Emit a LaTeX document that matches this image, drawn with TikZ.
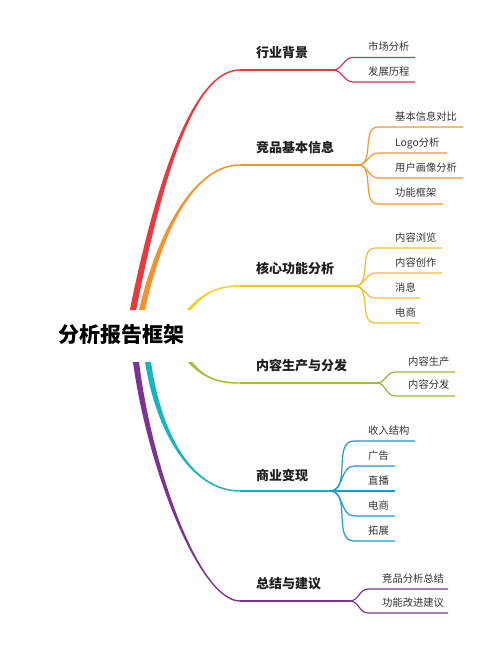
\documentclass[tikz,border=0pt]{standalone}
\usepackage{fontspec}
\setmainfont{Noto Sans CJK SC}
\usetikzlibrary{calc}
\definecolor{cred}{HTML}{E8393F}
\definecolor{cred2}{HTML}{D22F5C}
\definecolor{corange}{HTML}{F4912A}
\definecolor{corange2}{HTML}{EE9A30}
\definecolor{cyellow}{HTML}{F2D024}
\definecolor{cyellow2}{HTML}{EFBE2C}
\definecolor{cgreen}{HTML}{A2BD3A}
\definecolor{cgreen2}{HTML}{98B43E}
\definecolor{cteal}{HTML}{19B4C2}
\definecolor{cteal2}{HTML}{1B9CCB}
\definecolor{cpurple}{HTML}{7C3394}
\definecolor{cpurple2}{HTML}{7B3A98}
\definecolor{ctext}{HTML}{1E1E1E}
\definecolor{cleaf}{HTML}{333333}
% color, sign, half width, P0, P1, P2, P3
\newcommand\taperbranch[7]{%
  \fill[#1] ($(#4)+({-#3*#2},0)$) .. controls ($(#5)+({-0.8*#3*#2},0)$) and ($(#6)+(0,-1)$) .. ($(#7)+(0,-0.7)$)
    -- ($(#7)+(0,0.7)$) .. controls ($(#6)+(0,1)$) and ($(#5)+({0.8*#3*#2},0)$) .. ($(#4)+({#3*#2},0)$) -- cycle;}
\tikzset{
  mainline/.style={line width=1.4pt},
  subline/.style={line width=1.2pt},
  mainlabel/.style={anchor=west, inner sep=0pt, font=\fontsize{13}{13}\selectfont\bfseries, text=ctext},
  leaflabel/.style={anchor=west, inner sep=0pt, font=\fontsize{10.3}{10.3}\selectfont, text=cleaf},
  rootlabel/.style={inner sep=0pt, font=\fontsize{21}{21}\selectfont\bfseries, text=black},
}
\begin{document}
\begin{tikzpicture}[x=1pt,y=-1pt]
\useasboundingbox (0,0) rectangle (500,652);
\fill[white] (0,0) rectangle (500,652);

\node[rootlabel] (root) at (121,335) {分析报告框架};

% ---------- red
\coordinate (r0) at (133,310);
\coordinate (r1) at (240,70);
\coordinate (rf) at (333,70);
\taperbranch{cred}{1}{3.2}{r0}{165,150}{200,70}{r1}
\draw[cred,mainline] (r1) -- (rf);
\coordinate (ra) at (415,57.5);
\coordinate (rb) at (415,82);
\foreach \c in {ra,rb}{\draw[cred2,subline] (rf) to[out=0,in=180] ($(rf |- \c)+(20,0)$) -- (\c);}
\node[mainlabel] (rm) at (256,53) {行业背景};
\node[leaflabel] (rla) at (368,47) {市场分析};
\node[leaflabel] (rlb) at (368,72) {发展历程};

% ---------- orange
\coordinate (o0) at (142,310);
\coordinate (o1) at (240,165);
\coordinate (of) at (358,165);
\taperbranch{corange}{1}{3}{o0}{160,230}{195,165}{o1}
\draw[corange,mainline] (o1) -- (of);
\coordinate (oa) at (463,127);
\coordinate (ob) at (447,153);
\coordinate (oc) at (463,178);
\coordinate (od) at (443,204);
\foreach \c in {oa,ob,oc,od}{\draw[corange2,subline] (of) to[out=0,in=180] ($(of |- \c)+(20,0)$) -- (\c);}
\node[mainlabel] (om) at (256,148) {竞品基本信息};
\node[leaflabel] (ola) at (395,117) {基本信息对比};
\node[leaflabel] (olb) at (395,143) {Logo分析};
\node[leaflabel] (olc) at (395,168) {用户画像分析};
\node[leaflabel] (old) at (395,193) {功能框架};

% ---------- yellow
\coordinate (y0) at (189,310);
\coordinate (y1) at (240,286);
\coordinate (yf) at (355,286);
\taperbranch{cyellow}{1}{2.2}{y0}{203,293}{218,286}{y1}
\draw[cyellow!85!cgreen,mainline] (y1) -- (yf);
\coordinate (ya) at (442,248);
\coordinate (yb) at (442,273);
\coordinate (yc) at (420,298);
\coordinate (yd) at (420,323);
\foreach \c in {ya,yb,yc,yd}{\draw[cyellow2,subline] (yf) to[out=0,in=180] ($(yf |- \c)+(20,0)$) -- (\c);}
\node[mainlabel] (ym) at (256,269) {核心功能分析};
\node[leaflabel] (yla) at (395,238) {内容浏览};
\node[leaflabel] (ylb) at (395,263) {内容创作};
\node[leaflabel] (ylc) at (395,288) {消息};
\node[leaflabel] (yld) at (395,313) {电商};

% ---------- green
\coordinate (g0) at (190,362);
\coordinate (g1) at (240,383);
\coordinate (gf) at (377,383);
\taperbranch{cgreen}{(-1)}{2.2}{g0}{204,378}{218,383}{g1}
\draw[cgreen,mainline] (g1) -- (gf);
\coordinate (ga) at (455,372);
\coordinate (gb) at (455,396);
\foreach \c in {ga,gb}{\draw[cgreen2,subline] (gf) to[out=0,in=180] ($(gf |- \c)+(18,0)$) -- (\c);}
\node[mainlabel] (gm) at (256,366) {内容生产与分发};
\node[leaflabel] (gla) at (408,362) {内容生产};
\node[leaflabel] (glb) at (408,385) {内容分发};

% ---------- teal
\coordinate (t0) at (148,362);
\coordinate (t1) at (240,491);
\coordinate (tf) at (330,491);
\taperbranch{cteal}{(-1)}{3}{t0}{160,440}{195,491}{t1}
\draw[cteal!70!cteal2,mainline] (t1) -- (tf);
\coordinate (ta) at (415,441);
\coordinate (tb) at (395,466);
\coordinate (tc) at (395,491);
\coordinate (td) at (395,516);
\coordinate (te) at (395,541);
\foreach \c in {ta,tb,tc,td,te}{\draw[cteal2,subline] (tf) to[out=0,in=180] ($(tf |- \c)+(24,0)$) -- (\c);}
\node[mainlabel] (tm) at (256,475) {商业变现};
\node[leaflabel] (tla) at (368,431) {收入结构};
\node[leaflabel] (tlb) at (368,456) {广告};
\node[leaflabel] (tlc) at (368,481) {直播};
\node[leaflabel] (tld) at (368,506) {电商};
\node[leaflabel] (tle) at (368,531) {拓展};

% ---------- purple
\coordinate (p0) at (136,362);
\coordinate (p1) at (240,601);
\coordinate (pf) at (350,601);
\taperbranch{cpurple}{(-1)}{3}{p0}{150,470}{200,601}{p1}
\draw[cpurple,mainline] (p1) -- (pf);
\coordinate (pa) at (448,589);
\coordinate (pb) at (448,613);
\foreach \c in {pa,pb}{\draw[cpurple2,subline] (pf) to[out=0,in=180] ($(pf |- \c)+(18,0)$) -- (\c);}
\node[mainlabel] (pm) at (256,584) {总结与建议};
\node[leaflabel] (pla) at (382,579) {竞品分析总结};
\node[leaflabel] (plb) at (382,603) {功能改进建议};
\end{tikzpicture}
\end{document}
